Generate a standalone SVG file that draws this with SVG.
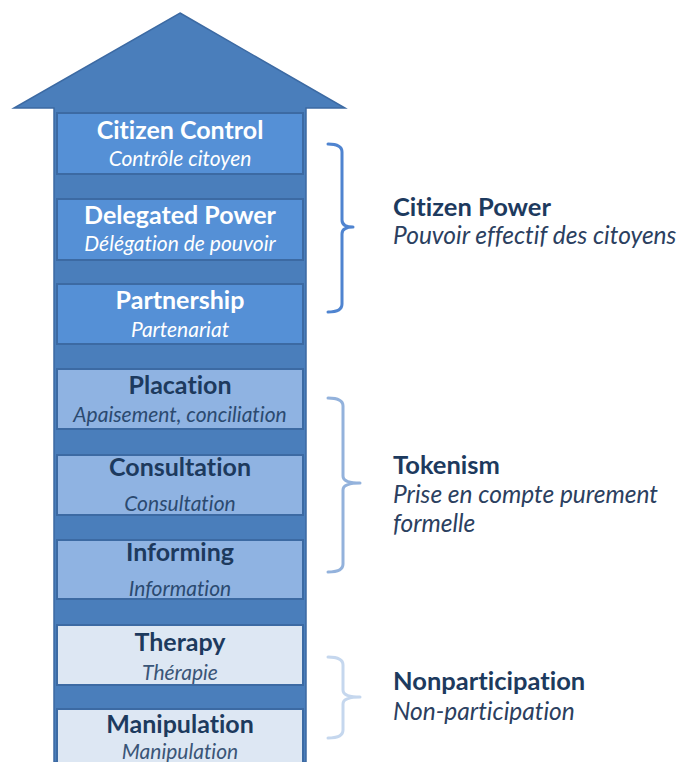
<svg xmlns="http://www.w3.org/2000/svg" width="678" height="762" viewBox="0 0 678 762">
<style>
text{font-variant-ligatures:none}
.t{font-family:Lato,"Open Sans",sans-serif;font-weight:bold;font-size:25px;text-anchor:middle}
.s{font-family:Lato,"Open Sans",sans-serif;font-style:italic;font-size:21px;text-anchor:middle}
.hi .t,.hi .s{fill:#ffffff}
.mid .t{fill:#1d3a5e}.mid .s{fill:#2b4a70}
.lo .t{fill:#1d3a5e}.lo .s{fill:#3a5577}
.hi rect{fill:#5590d6;stroke:#3c6aa3;stroke-width:2}
.mid rect{fill:#8fb3e2;stroke:#3c6aa3;stroke-width:2}
.lo rect{fill:#dde7f3;stroke:#3c6aa3;stroke-width:2}
.gt{font-family:Lato,"Open Sans",sans-serif;font-weight:bold;font-size:25.5px;fill:#1d3a5e}
.gs{font-family:Lato,"Open Sans",sans-serif;font-style:italic;font-size:24.5px;fill:#2b4060}
.br{fill:none;stroke-width:3;stroke-linecap:round;stroke-linejoin:round}
</style>
<rect width="678" height="762" fill="#ffffff"/>
<g id="arrow">
<path d="M180,13 L345,108 L306,108 L306,762 L54,762 L54,108 L14,108 Z" fill="#4a7ebb" stroke="#3c6aa3" stroke-width="1.5"/>
</g>
<g id="citizen-control" class="hi"><rect x="57" y="113" width="246" height="61"/><text class="t" x="180" y="139">Citizen Control</text><text class="s" x="180" y="166">Contrôle citoyen</text></g>
<g id="delegated-power" class="hi"><rect x="57" y="199" width="246" height="61"/><text class="t" x="180" y="224">Delegated Power</text><text class="s" x="180" y="251">Délégation de pouvoir</text></g>
<g id="partnership" class="hi"><rect x="57" y="284" width="246" height="60"/><text class="t" x="180" y="309">Partnership</text><text class="s" x="180" y="337">Partenariat</text></g>
<g id="placation" class="mid"><rect x="57" y="369" width="246" height="60"/><text class="t" x="180" y="394">Placation</text><text class="s" x="180" y="422">Apaisement, conciliation</text></g>
<g id="consultation" class="mid"><rect x="57" y="455" width="246" height="60"/><text class="t" x="180" y="476">Consultation</text><text class="s" x="180" y="511">Consultation</text></g>
<g id="informing" class="mid"><rect x="57" y="540" width="246" height="59"/><text class="t" x="180" y="561">Informing</text><text class="s" x="180" y="596">Information</text></g>
<g id="therapy" class="lo"><rect x="57" y="625" width="246" height="60"/><text class="t" x="180" y="651">Therapy</text><text class="s" x="180" y="680">Thérapie</text></g>
<g id="manipulation" class="lo"><rect x="57" y="709" width="246" height="60"/><text class="t" x="180" y="733">Manipulation</text><text class="s" x="180" y="759">Manipulation</text></g>
<g id="connectors">
<path class="br" stroke="#4f84d0" d="M328,144 Q342,144 342,152 L342,220 Q342,227 353,227 Q342,227 342,234 L342,304 Q342,312 328,312"/>
<path class="br" stroke="#93b2dc" d="M328,398 Q343,398 343,406 L343,476 Q343,483 360,483 Q343,483 343,490 L343,564 Q343,572 328,572"/>
<path class="br" stroke="#c5d7ee" d="M328,657 Q343,657 343,665 L343,690 Q343,697 360,697 Q343,697 343,704 L343,730 Q343,738 328,738"/>
</g>
<g id="citizen-power"><text class="gt" x="393" y="216">Citizen Power</text><text class="gs" x="393" y="244">Pouvoir effectif des citoyens</text></g>
<g id="tokenism"><text class="gt" x="393" y="474">Tokenism</text><text class="gs" x="393" y="503">Prise en compte purement</text><text class="gs" x="393" y="532">formelle</text></g>
<g id="nonparticipation"><text class="gt" x="393" y="690">Nonparticipation</text><text class="gs" x="393" y="720">Non-participation</text></g>
</svg>
